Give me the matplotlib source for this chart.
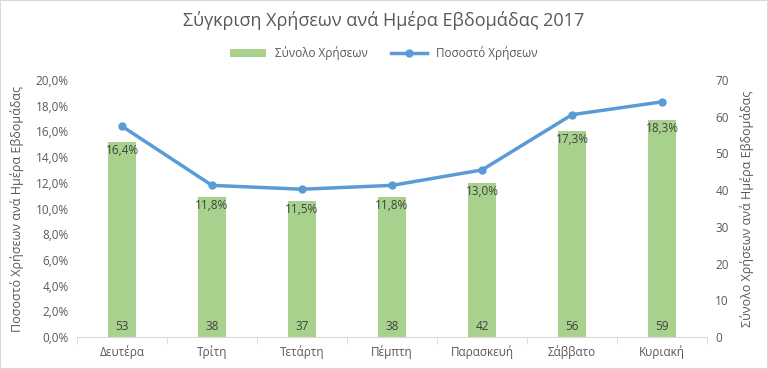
import matplotlib.pyplot as plt
import numpy as np

plt.rcParams['font.family'] = ['Open Sans', 'DejaVu Sans']

days = ['Δευτέρα', 'Τρίτη', 'Τετάρτη', 'Πέμπτη', 'Παρασκευή', 'Σάββατο', 'Κυριακή']
counts = [53, 38, 37, 38, 42, 56, 59]
percents = [16.4, 11.8, 11.5, 11.8, 13.0, 17.3, 18.3]

txt = '#595959'
green = '#a9d18e'
blue = '#5b9bd5'

fig = plt.figure(figsize=(7.68, 3.69), dpi=100)
ax = fig.add_axes([77/768, 32/369, 630/768, 257/369])
ax2 = ax.twinx()

x = np.arange(len(days))

# bars on right axis (counts)
bars = ax2.bar(x, counts, width=0.31, color=green, zorder=1, label='Σύνολο Χρήσεων')
for xi, c in zip(x, counts):
    ax2.text(xi, 1.2, str(c), ha='center', va='bottom', fontsize=8.5, color='#404040')

# line on left axis (percent)
ax.set_zorder(ax2.get_zorder() + 1)
ax.patch.set_visible(False)
line, = ax.plot(x, percents, color=blue, lw=2.5, marker='o', ms=5, label='Ποσοστό Χρήσεων')
for xi, c, p in zip(x, counts, percents):
    ax.text(xi, c / 70 * 20 - 0.15, ('%.1f%%' % p).replace('.', ','), ha='center', va='top',
            fontsize=8.5, color='#404040')

ax.set_ylim(0, 20)
ax2.set_ylim(0, 70)
ax.set_xlim(-0.5, 6.5)
ax.set_yticks(np.arange(0, 20.1, 2))
ax.set_yticklabels([('%.1f%%' % v).replace('.', ',') for v in np.arange(0, 20.1, 2)])
ax2.set_yticks(range(0, 71, 10))
ax.set_xticks(x)
ax.set_xticklabels(days)
ax.set_xticks(np.arange(-0.5, 7, 1), minor=True)

for a in (ax, ax2):
    for s in a.spines.values():
        s.set_visible(False)
    a.tick_params(axis='y', length=0, labelsize=8.5, labelcolor=txt, pad=6)
ax.spines['bottom'].set_visible(True)
ax.spines['bottom'].set_color('#d9d9d9')
ax.tick_params(axis='x', which='major', length=0, labelsize=8.5, labelcolor=txt, pad=6)
ax.tick_params(axis='x', which='minor', length=5, color='#d9d9d9')

ax.set_ylabel('Ποσοστό Χρήσεων ανά Ημέρα Εβδομάδας', fontsize=9, color=txt, labelpad=8)
ax2.set_ylabel('Σύνολο Χρήσεων ανά Ημέρα Εβδομάδας', fontsize=9, color=txt, labelpad=8)

fig.text(0.5, 1 - 20/369, 'Σύγκριση Χρήσεων ανά Ημέρα Εβδομάδας 2017', ha='center', va='center',
         fontsize=13, color=txt)
fig.legend([bars, line], ['Σύνολο Χρήσεων', 'Ποσοστό Χρήσεων'], loc='center',
           bbox_to_anchor=(0.5, 1 - 53/369), ncol=2, frameon=False, fontsize=8.5,
           labelcolor=txt, handlelength=3, columnspacing=2)

fig.patches.append(plt.Rectangle((0, 0), 1, 1, transform=fig.transFigure, fill=False,
                                 edgecolor='#d9d9d9', lw=1.5))

fig.savefig('out.png', dpi=100)
